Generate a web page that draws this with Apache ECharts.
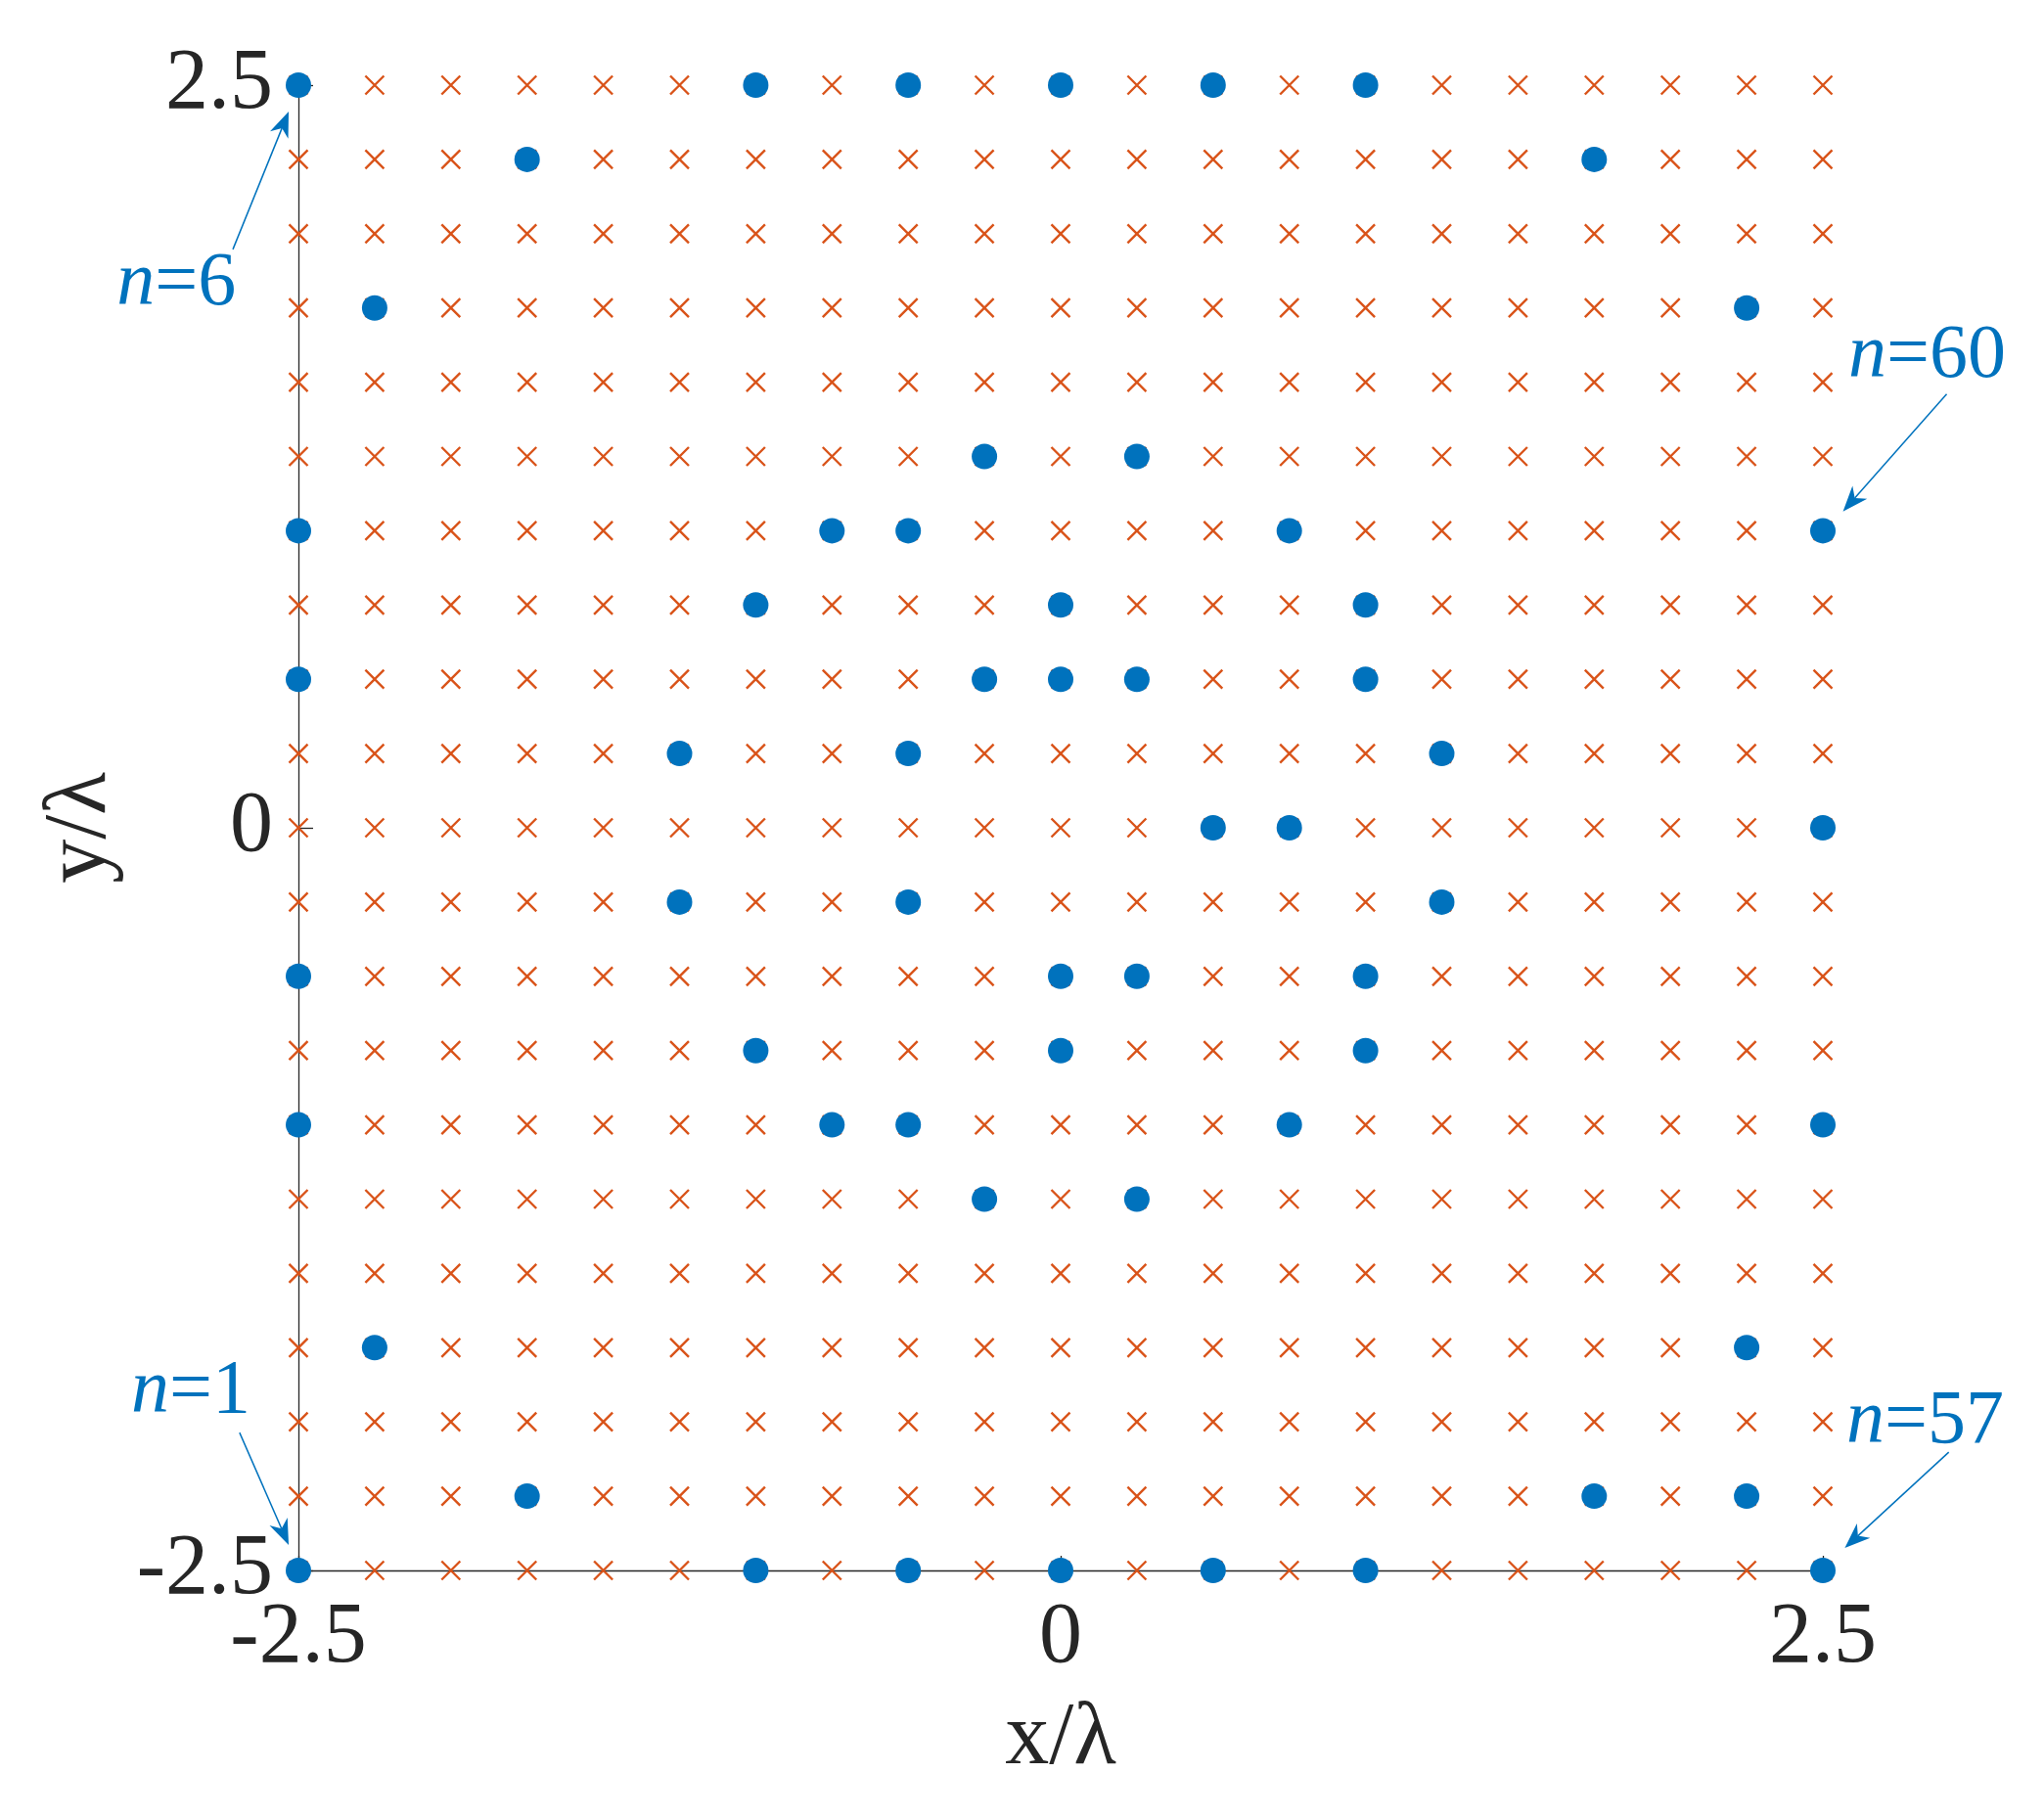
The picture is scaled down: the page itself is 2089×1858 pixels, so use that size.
<!DOCTYPE html>
<html>
<head>
<meta charset="utf-8">
<script src="https://cdn.jsdelivr.net/npm/echarts@6/dist/echarts.min.js"></script>
<style>
  html, body { margin: 0; padding: 0; background: #fff; }
  #main { width: 2089px; height: 1858px; }
</style>
</head>
<body>
<div id="main"></div>
<script>
    // candidate grid positions (in wavelengths), 0.25 lambda spacing
    var gridPos = [-2.5, -2.25, -2, -1.75, -1.5, -1.25, -1, -0.75, -0.5, -0.25, 0,
                   0.25, 0.5, 0.75, 1, 1.25, 1.5, 1.75, 2, 2.25, 2.5];
    var tickVals = [-2.5, 0, 2.5];

    // selected elements, numbered column by column (n=1 ... n=60)
    var elements = [
        [-2.5, -2.5], [-2.5, -1], [-2.5, -0.5], [-2.5, 0.5], [-2.5, 1], [-2.5, 2.5],
        [-2.25, -1.75], [-2.25, 1.75],
        [-1.75, -2.25], [-1.75, 2.25],
        [-1.25, -0.25], [-1.25, 0.25],
        [-1, -2.5], [-1, -0.75], [-1, 0.75], [-1, 2.5],
        [-0.75, -1], [-0.75, 1],
        [-0.5, -2.5], [-0.5, -1], [-0.5, -0.25], [-0.5, 0.25], [-0.5, 1], [-0.5, 2.5],
        [-0.25, -1.25], [-0.25, 0.5], [-0.25, 1.25],
        [0, -2.5], [0, -0.75], [0, -0.5], [0, 0.5], [0, 0.75], [0, 2.5],
        [0.25, -1.25], [0.25, -0.5], [0.25, 0.5], [0.25, 1.25],
        [0.5, -2.5], [0.5, 0], [0.5, 2.5],
        [0.75, -1], [0.75, 0], [0.75, 1],
        [1, -2.5], [1, -0.75], [1, -0.5], [1, 0.5], [1, 0.75], [1, 2.5],
        [1.25, -0.25], [1.25, 0.25],
        [1.75, -2.25], [1.75, 2.25],
        [2.25, -2.25], [2.25, -1.75], [2.25, 1.75],
        [2.5, -2.5], [2.5, -1], [2.5, 0], [2.5, 1]
    ];

    // annotations: label centre, arrow start, arrow tip (data units)
    var notes = [
        {text: '6',  label: [-2.90, 1.83],  from: [-2.715, 1.947],  to: [-2.532, 2.411]},
        {text: '1',  label: [-2.853, -1.90], from: [-2.693, -2.036], to: [-2.532, -2.414]},
        {text: '60', label: [2.842, 1.585],  from: [2.906, 1.460],   to: [2.566, 1.065]},
        {text: '57', label: [2.835, -2.00],  from: [2.913, -2.102],  to: [2.572, -2.424]}
    ];

    var crosses = [];
    gridPos.forEach(function (x) {
        gridPos.forEach(function (y) { crosses.push([x, y]); });
    });

    var serif = "Liberation Serif";
    var axisColor = '#262626';
    var blue = '#0072BD';

    function axisCfg(name, gap, rot) {
        return {
            type: 'value', min: -2.5, max: 2.5, interval: 2.5,
            name: name, nameLocation: 'middle', nameGap: gap, nameRotate: rot,
            nameTextStyle: {fontFamily: serif, fontSize: 90, color: axisColor},
            axisLine: {show: true, onZero: false, lineStyle: {color: axisColor, width: 1.3}},
            axisTick: {show: true, inside: true, length: 15, lineStyle: {color: axisColor, width: 1.3}},
            axisLabel: {
                fontFamily: serif, fontSize: 88, color: axisColor, margin: 26,
                formatter: function (v) { return tickVals.indexOf(v) >= 0 ? String(v) : ''; }
            },
            splitLine: {show: false}
        };
    }

    var myChart = echarts.init(document.getElementById('main'));
    var option = {
        backgroundColor: '#fff',
        animation: false,
        grid: {left: 305, right: 226, top: 87, bottom: 253, containLabel: false},
        xAxis: axisCfg('x/λ', 128, 0),
        yAxis: axisCfg('y/λ', 165, 90),
        series: [
            {
                type: 'scatter', name: 'grid', data: crosses, clip: false,
                symbol: 'path://M0,0L10,10M10,0L0,10', symbolSize: 19,
                itemStyle: {color: 'none', borderColor: '#D95319', borderWidth: 2.4, opacity: 1}
            },
            {
                type: 'scatter', name: 'elements', data: elements, clip: false,
                symbol: 'circle', symbolSize: 26, z: 3,
                itemStyle: {color: blue, opacity: 1}
            }
        ]
    };
    myChart.setOption(option);

    // arrows and labels placed through the axis scales
    var gfx = [];
    notes.forEach(function (n) {
        var c = myChart.convertToPixel({gridIndex: 0}, n.label);
        var a = myChart.convertToPixel({gridIndex: 0}, n.from);
        var b = myChart.convertToPixel({gridIndex: 0}, n.to);
        var dx = b[0] - a[0], dy = b[1] - a[1];
        var len = Math.sqrt(dx * dx + dy * dy);
        var ux = dx / len, uy = dy / len, px = -uy, py = ux;
        var hl = 26, hw = 10;
        var base = [b[0] - ux * hl, b[1] - uy * hl];
        var notch = [b[0] - ux * hl * 0.7, b[1] - uy * hl * 0.7];
        gfx.push({
            type: 'line', z: 10,
            shape: {x1: a[0], y1: a[1], x2: notch[0], y2: notch[1]},
            style: {stroke: blue, lineWidth: 1.5}
        });
        gfx.push({
            type: 'polygon', z: 10,
            shape: {points: [b, [base[0] + px * hw, base[1] + py * hw], notch, [base[0] - px * hw, base[1] - py * hw]]},
            style: {fill: blue}
        });
        gfx.push({
            type: 'text', z: 10, x: c[0], y: c[1],
            style: {
                text: '{i|n}=' + n.text, align: 'center', verticalAlign: 'middle',
                fontFamily: serif, fontSize: 78, fill: blue,
                rich: {i: {fontFamily: serif, fontSize: 78, fontStyle: 'italic', color: blue}}
            }
        });
    });
    myChart.setOption({graphic: gfx});
</script>
</body>
</html>
